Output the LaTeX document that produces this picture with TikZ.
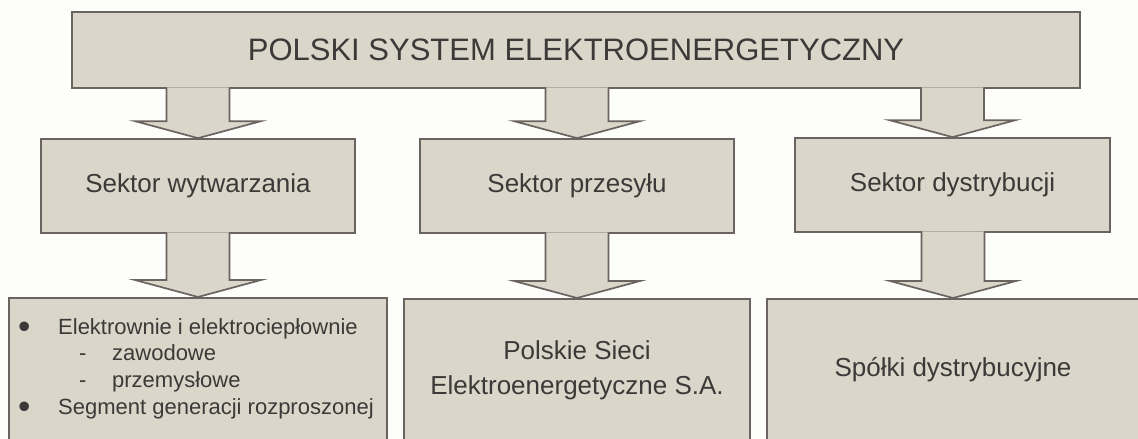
\documentclass[tikz,border=0pt]{standalone}
\usepackage{fontspec}
\setmainfont{Liberation Sans}
\usepackage{tikz}
\usetikzlibrary{calc}
\definecolor{boxfill}{HTML}{DAD6C9}
\definecolor{boxline}{HTML}{6A6360}
\definecolor{txt}{HTML}{3C3A38}
\definecolor{paper}{HTML}{FDFDFB}
\tikzset{
  block/.style={draw=boxline,fill=boxfill,line width=1.7pt,inner sep=0pt,text=txt,align=center},
  blockarrow/.style={draw=boxline,fill=boxfill,line width=1.7pt,line join=miter}
}
% block arrow from the bottom of #1 to the top of #2
\newcommand{\blockarrow}[2]{%
  \draw[blockarrow] ($(#1.south -| #2.north)+(-31.5,-1.5)$) -- ($(#2.north)+(-31.5,-17)$)
    -- ($(#2.north)+(-63,-17)$) -- (#2.north) -- ($(#2.north)+(63,-17)$)
    -- ($(#2.north)+(31.5,-17)$) -- ($(#1.south -| #2.north)+(31.5,-1.5)$);}
\newcommand{\bigbullet}{\makebox[40pt][l]{\raisebox{-0.18em}{\scalebox{1.6}{\textbullet}}}}

\begin{document}
\begin{tikzpicture}[x=1pt,y=-1pt]
  \fill[paper] (0,0) rectangle (1138,439);
  \clip (0,0) rectangle (1138,439);

  % Top box
  \node[block,minimum width=1008pt,minimum height=76pt,font=\fontsize{31}{36}\selectfont] (pse) at (576,50) {POLSKI SYSTEM ELEKTROENERGETYCZNY};

  % Sectors
  \node[block,minimum width=314pt,minimum height=94pt,font=\fontsize{26}{32}\selectfont] (wytw) at (198,186) {Sektor wytwarzania};
  \node[block,minimum width=314pt,minimum height=94pt,font=\fontsize{26}{32}\selectfont] (przes) at (577,186) {Sektor przesyłu};
  \node[block,minimum width=315pt,minimum height=94pt,font=\fontsize{26}{32}\selectfont] (dystr) at (952.5,185) {Sektor dystrybucji};

  % Bottom row
  \node[block,anchor=north,minimum width=378pt,minimum height=150pt] (elek) at (198,297) {};
  \node[block,anchor=north,minimum width=346pt,minimum height=150pt] (pss) at (577,298) {};
  \node[block,anchor=north,minimum width=372pt,minimum height=150pt] (spol) at (953,298) {};

  \node[anchor=west,inner sep=0pt,text=txt,align=left,font=\fontsize{22}{26.7}\selectfont] (lista) at (18,368.5)
    {\bigbullet Elektrownie i elektrociepłownie\\
     \hspace{61pt}\makebox[33pt][l]{-}zawodowe\\
     \hspace{61pt}\makebox[33pt][l]{-}przemysłowe\\
     \bigbullet Segment generacji rozproszonej};
  \node[inner sep=0pt,text=txt,align=center,font=\fontsize{26}{35}\selectfont] (psstxt) at (577,370.5) {Polskie Sieci\\Elektroenergetyczne S.A.};
  \node[inner sep=0pt,text=txt,font=\fontsize{26}{32}\selectfont] (spoltxt) at (953,370) {Spółki dystrybucyjne};

  % Arrows
  \blockarrow{pse}{wytw}
  \blockarrow{pse}{przes}
  \blockarrow{pse}{dystr}
  \blockarrow{wytw}{elek}
  \blockarrow{przes}{pss}
  \blockarrow{dystr}{spol}
\end{tikzpicture}
\end{document}
